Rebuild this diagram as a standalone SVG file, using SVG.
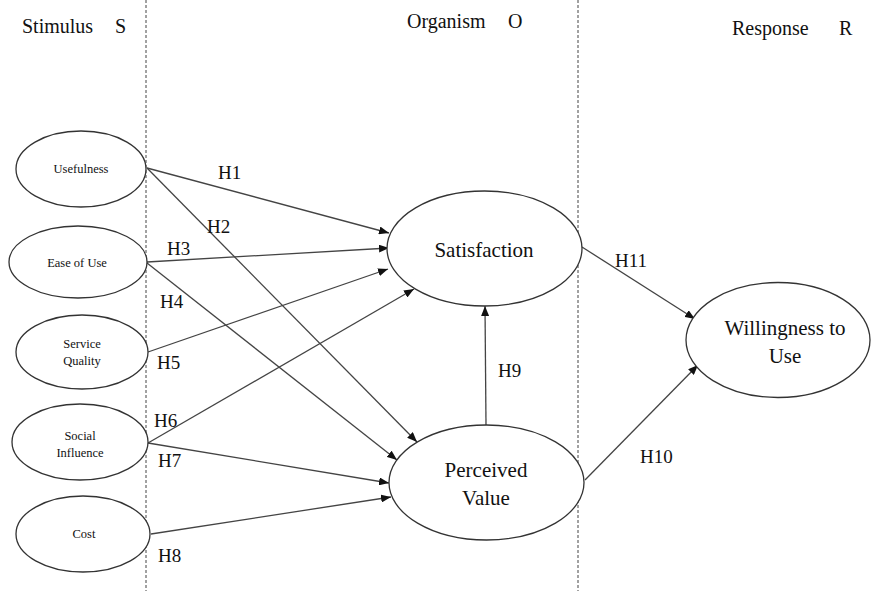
<svg xmlns="http://www.w3.org/2000/svg" width="873" height="591" viewBox="0 0 873 591">
<style>
text{font-family:'Liberation Serif',Tinos,'Times New Roman',Times,'DejaVu Serif',serif;fill:#111}
.title{font-size:20px}
.small{font-size:12.5px;text-anchor:middle}
.big{font-size:21px;text-anchor:middle}
.lab{font-size:19px}
ellipse{fill:#fff;stroke:#333;stroke-width:1.3}
.dash{stroke:#444;stroke-width:1;stroke-dasharray:3,2;fill:none}
.conn line{stroke:#444;stroke-width:1.3;marker-end:url(#arr)}
</style>
<defs>
<marker id="arr" markerUnits="userSpaceOnUse" markerWidth="10" markerHeight="8" refX="10" refY="4" orient="auto">
<path d="M0,0 L10,4 L0,8 z" fill="#111"/>
</marker>
</defs>
<rect width="873" height="591" fill="#fff"/>
<g id="dividers">
<line class="dash" x1="146" y1="0" x2="146" y2="591"/>
<line class="dash" x1="578" y1="0" x2="578" y2="591"/>
</g>
<g id="titles" font-family="Liberation Serif, serif">
<text class="title" x="22" y="33">Stimulus</text>
<text class="title" x="115" y="33">S</text>
<text class="title" x="407" y="28">Organism</text>
<text class="title" x="508" y="28">O</text>
<text class="title" x="732" y="35">Response</text>
<text class="title" x="839" y="35">R</text>
</g>
<g class="conn" id="connectors">
<line x1="147" y1="168" x2="389" y2="233"/>
<line x1="147" y1="168" x2="417" y2="442"/>
<line x1="147" y1="262" x2="389" y2="248"/>
<line x1="147" y1="263" x2="397" y2="460"/>
<line x1="148" y1="352" x2="388" y2="269"/>
<line x1="148" y1="443" x2="414" y2="289"/>
<line x1="148" y1="443" x2="389" y2="483"/>
<line x1="151" y1="534" x2="391" y2="497"/>
<line x1="486" y1="425" x2="485" y2="306"/>
<line x1="585" y1="480" x2="698" y2="365"/>
<line x1="582" y1="247" x2="695" y2="319"/>
</g>
<g id="labels">
<text class="lab" x="218" y="179">H1</text>
<text class="lab" x="207" y="233">H2</text>
<text class="lab" x="167" y="255">H3</text>
<text class="lab" x="160" y="308">H4</text>
<text class="lab" x="157" y="369">H5</text>
<text class="lab" x="154" y="427">H6</text>
<text class="lab" x="158" y="467">H7</text>
<text class="lab" x="158" y="562">H8</text>
<text class="lab" x="498" y="377">H9</text>
<text class="lab" x="640" y="463">H10</text>
<text class="lab" x="615" y="267">H11</text>
</g>
<g id="usefulness">
<ellipse cx="81" cy="169" rx="65" ry="38"/>
<text class="small" x="81" y="173">Usefulness</text>
</g>
<g id="ease-of-use">
<ellipse cx="78" cy="262" rx="69" ry="36"/>
<text class="small" x="77" y="267">Ease of Use</text>
</g>
<g id="service-quality">
<ellipse cx="82" cy="352" rx="66" ry="37"/>
<text class="small" x="82" y="348">Service</text>
<text class="small" x="82" y="365">Quality</text>
</g>
<g id="social-influence">
<ellipse cx="80" cy="442" rx="68" ry="38"/>
<text class="small" x="80" y="440">Social</text>
<text class="small" x="80" y="457">Influence</text>
</g>
<g id="cost">
<ellipse cx="83" cy="534" rx="67" ry="38"/>
<text class="small" x="84" y="538">Cost</text>
</g>
<g id="satisfaction">
<ellipse cx="484.5" cy="248.5" rx="97.5" ry="57.5"/>
<text class="big" x="484" y="257">Satisfaction</text>
</g>
<g id="perceived-value">
<ellipse cx="486.5" cy="482.5" rx="97.5" ry="57.5"/>
<text class="big" x="486" y="477">Perceived</text>
<text class="big" x="486" y="505">Value</text>
</g>
<g id="willingness">
<ellipse cx="778" cy="340" rx="92" ry="57.5"/>
<text class="big" x="785" y="335">Willingness to</text>
<text class="big" x="785" y="363">Use</text>
</g>
</svg>
